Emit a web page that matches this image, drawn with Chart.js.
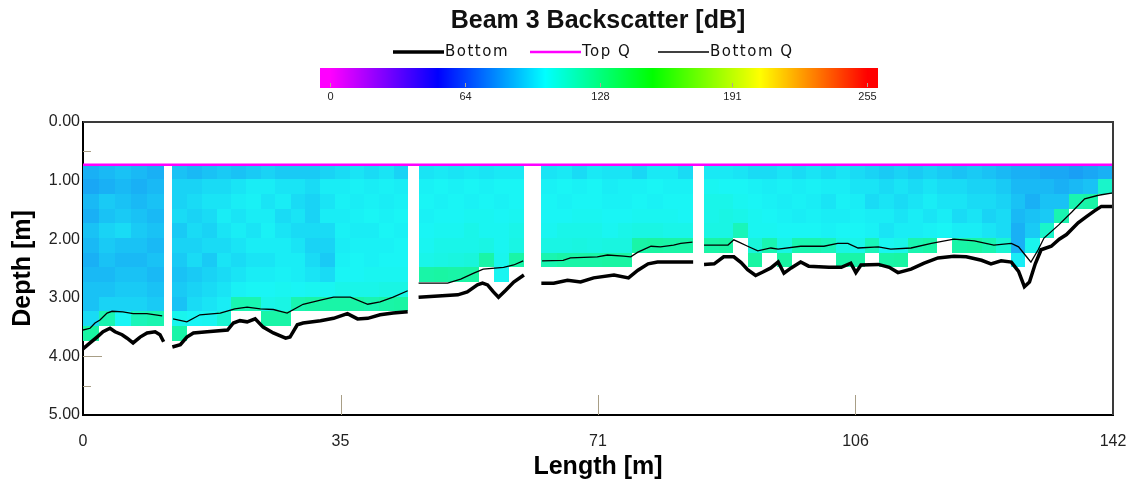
<!DOCTYPE html>
<html>
<head>
<meta charset="utf-8">
<title>Beam 3 Backscatter</title>
<script src="https://cdn.jsdelivr.net/npm/chart.js@4"></script>
<style>
  html, body { margin: 0; padding: 0; background: #fff; }
</style>
</head>
<body>
<canvas id="beamChart" width="1135" height="493"></canvas>
<script>
// ---- values ----
const lengthMax   = 141.8;
const xTickValues = [0, 35.45, 70.9, 106.35, 141.8];
const xTickLabels = ['0', '35', '71', '106', '142'];
const colorTicks  = [0, 64, 128, 191, 255];
const topQDepth   = 0.73;
const binTop      = 0.73;   // first depth cell starts here [m]
const binSize     = 0.25;   // cell height [m]

// ensembles (columns) along the track [m]; the white strips are missing ensembles
const colStart = [0, 2.2, 4.4, 6.6, 8.8,
  12.3, 14.3, 16.4, 18.4, 20.4, 22.5, 24.5, 26.5, 28.6, 30.6, 32.6, 34.7, 36.7, 38.7, 40.8, 42.8,
  46.2, 48.3, 50.3, 52.4, 54.5, 56.6, 58.6,
  63.1, 65.2, 67.3, 69.4, 71.5, 73.6, 75.6, 77.7, 79.8, 81.9,
  85.5, 87.5, 89.5, 91.5, 93.5, 95.6, 97.6, 99.6, 101.6, 103.6, 105.6, 107.6, 109.6, 111.6,
  113.6, 115.6, 117.6, 119.6, 121.7, 123.7, 125.7, 127.7, 129.7, 131.7, 133.7, 135.7, 137.7, 139.7];
const colEnd = [2.2, 4.4, 6.6, 8.8, 11.2,
  14.3, 16.4, 18.4, 20.4, 22.5, 24.5, 26.5, 28.6, 30.6, 32.6, 34.7, 36.7, 38.7, 40.8, 42.8, 44.8,
  48.3, 50.3, 52.4, 54.5, 56.6, 58.6, 60.7,
  65.2, 67.3, 69.4, 71.5, 73.6, 75.6, 77.7, 79.8, 81.9, 84.0,
  87.5, 89.5, 91.5, 93.5, 95.6, 97.6, 99.6, 101.6, 103.6, 105.6, 107.6, 109.6, 111.6, 113.6,
  115.6, 117.6, 119.6, 121.7, 123.7, 125.7, 127.7, 129.7, 131.7, 133.7, 135.7, 137.7, 139.7, 141.8];

// backscatter counts per column, top cell first (0..255 colour scale)
const beam3 = [
  [86, 84, 88, 86, 90, 88, 86, 88, 90, 90, 96, 121],
  [88, 86, 92, 90, 94, 92, 90, 88, 90, 94, 118],
  [90, 88, 90, 92, 96, 90, 88, 90, 92, 94, 102],
  [88, 86, 88, 90, 92, 90, 88, 90, 92, 94, 116],
  [86, 88, 90, 88, 90, 88, 90, 88, 90, 92, 118],

  [90, 94, 94, 96, 92, 94, 92, 90, 92, 90, 104, 120],
  [88, 94, 96, 94, 96, 94, 96, 92, 94, 96, 102],
  [90, 96, 98, 96, 94, 96, 92, 94, 96, 98, 103],
  [92, 96, 98, 100, 98, 96, 98, 96, 98, 100, 110],
  [90, 98, 100, 98, 100, 98, 96, 98, 101, 118],
  [92, 100, 101, 100, 98, 100, 98, 100, 102, 118],
  [94, 100, 98, 100, 101, 100, 98, 100, 102, 105, 120],
  [92, 98, 100, 96, 98, 100, 100, 101, 103, 106, 120],
  [92, 98, 96, 98, 96, 98, 100, 100, 102, 118],
  [92, 96, 94, 94, 96, 94, 96, 98, 103, 120],
  [94, 100, 98, 100, 96, 94, 92, 96, 103, 120],
  [96, 100, 101, 100, 101, 100, 101, 102, 105, 120],
  [98, 101, 100, 101, 100, 101, 102, 102, 105, 120],
  [96, 100, 101, 102, 100, 101, 101, 103, 105, 118],
  [98, 101, 100, 101, 102, 101, 102, 103, 106, 120],
  [94, 100, 101, 102, 101, 102, 102, 103, 106, 121],

  [98, 101, 102, 101, 102, 103, 105, 120],
  [99, 102, 101, 102, 103, 105, 106, 121],
  [98, 101, 102, 102, 103, 105, 107, 120],
  [99, 102, 101, 103, 105, 105, 108, 121],
  [98, 101, 102, 103, 103, 106, 120],
  [99, 102, 101, 102, 103, 103, 104, 103],
  [99, 102, 102, 103, 105, 106, 120],

  [98, 101, 102, 102, 103, 106, 118],
  [99, 102, 101, 102, 105, 106, 120],
  [96, 101, 102, 103, 105, 107, 120],
  [99, 102, 102, 103, 105, 106, 120],
  [98, 100, 101, 102, 103, 107, 121],
  [98, 101, 101, 102, 105, 107, 121],
  [95, 101, 102, 103, 106, 120],
  [99, 102, 101, 103, 106, 121],
  [99, 101, 102, 103, 105, 120],
  [96, 101, 102, 102, 105, 120],

  [99, 103, 105, 105, 106, 120],
  [99, 102, 105, 106, 106, 121],
  [98, 102, 103, 105, 116],
  [96, 101, 102, 103, 103, 108, 121],
  [96, 100, 101, 102, 103, 118],
  [98, 101, 100, 101, 102, 106, 121],
  [96, 100, 101, 100, 102, 118],
  [98, 101, 100, 101, 102, 118],
  [96, 100, 98, 100, 101, 116],
  [98, 100, 101, 100, 102, 106, 120],
  [96, 98, 100, 101, 102, 105, 120],
  [94, 98, 96, 100, 101, 116],
  [92, 96, 98, 100, 98, 103, 120],
  [94, 98, 96, 98, 100, 105, 121],
  [92, 96, 98, 100, 100, 118],
  [94, 98, 100, 98, 101, 120],
  [92, 96, 98, 100, 102],
  [90, 96, 98, 96, 100, 120],
  [92, 94, 96, 98, 100, 121],
  [90, 94, 96, 94, 98, 118],
  [88, 92, 94, 96, 96, 110],
  [86, 88, 90, 88, 86, 86, 100],
  [86, 88, 86, 90, 92, 104],
  [84, 88, 90, 92, 112],
  [84, 86, 90, 118],
  [82, 88, 118],
  [84, 90, 120],
  [86, 112]
];

// bottom track (null = missing ensemble)
const bottomX = [0, 0.97, 1.93, 2.76, 3.72, 4.41, 5.38, 6.07, 6.89, 7.86, 8.82, 9.93, 10.6, 11.1, 11.7,
  12.3, 13.4, 14.3, 15.2, 17.1, 19.9, 20.7, 21.6, 22.6, 23.7, 24.8, 26.2, 27.9, 28.5, 29.5, 30.3, 32.7, 34.5, 36.4, 37.8, 39.2, 40.9, 42.7, 44.7, 45.5,
  46.2, 51.6, 52.9, 54.3, 55.0, 55.7, 56.5, 57.2, 58.2, 59.3, 60.7, 61.9,
  63.1, 64.8, 66.7, 68.5, 70.3, 73.1, 75.1, 76.4, 77.8, 79.1, 84.0, 84.8,
  85.5, 86.9, 88.2, 89.6, 90.6, 91.5, 92.6, 93.6, 94.7, 95.7, 96.5, 97.5, 98.8, 99.9, 101.3, 102.7, 104.4, 105.7, 106.4, 107.1,
  109.5, 111.0, 112.2, 114.0, 115.8, 117.7, 119.9, 121.6, 123.7, 125.0, 126.4, 127.8, 128.8, 129.6, 130.3, 131.1, 131.9, 133.3, 134.4, 135.4,
  137.0, 138.1, 139.2, 140.2, 141.8];
const bottomDepth = [3.87, 3.77, 3.67, 3.58, 3.52, 3.58, 3.63, 3.69, 3.77, 3.67, 3.60, 3.58, 3.63, 3.75, null,
  3.84, 3.80, 3.67, 3.60, 3.58, 3.55, 3.43, 3.39, 3.41, 3.36, 3.50, 3.60, 3.69, 3.67, 3.46, 3.43, 3.39, 3.35, 3.27, 3.36, 3.35, 3.29, 3.26, 3.24, null,
  2.99, 2.95, 2.90, 2.78, 2.75, 2.78, 2.90, 2.99, 2.87, 2.73, 2.61, null,
  2.75, 2.75, 2.70, 2.73, 2.66, 2.61, 2.66, 2.53, 2.42, 2.39, 2.39, null,
  2.43, 2.42, 2.30, 2.30, 2.40, 2.52, 2.62, 2.56, 2.49, 2.39, 2.58, 2.49, 2.39, 2.46, 2.47, 2.48, 2.48, 2.41, 2.57, 2.44,
  2.43, 2.48, 2.57, 2.51, 2.41, 2.32, 2.29, 2.30, 2.36, 2.42, 2.37, 2.39, 2.55, 2.81, 2.73, 2.42, 2.18, 2.12, 2.00, 1.92,
  1.72, 1.62, 1.52, 1.44, 1.44];

// lower limit of good data (Bottom Q)
const bottomQX = [0, 0.97, 1.65, 2.34, 3.31, 4.0, 5.5, 6.9, 8.8, 10.9, 11.7,
  12.4, 14.3, 16.1, 18.9, 20.9, 22.6, 24.4, 26.2, 28.1, 30.3, 32.7, 34.5, 36.8, 39.2, 40.9, 42.7, 44.7, 45.5,
  46.2, 50.2, 52.0, 53.8, 55.1, 57.9, 59.3, 60.6, 61.9,
  63.2, 66.1, 67.1, 70.8, 72.2, 74.4, 75.4, 76.4, 78.2, 79.5, 81.3, 82.3, 83.9, 84.8,
  85.5, 88.8, 89.6, 90.3, 91.5, 92.9, 94.7, 95.7, 98.8, 102.0, 103.9, 105.3, 106.7, 109.5, 111.2, 114.0, 116.8, 119.9, 122.7, 125.4,
  127.8, 128.8, 129.9, 130.5, 131.5, 132.3, 134.3, 136.1, 137.9, 139.8, 141.8];
const bottomQDepth = [3.55, 3.52, 3.43, 3.38, 3.26, 3.23, 3.24, 3.27, 3.27, 3.31, null,
  3.36, 3.41, 3.29, 3.26, 3.19, 3.16, 3.19, 3.20, 3.26, 3.11, 3.04, 2.99, 2.99, 3.11, 3.07, 2.99, 2.88, null,
  2.75, 2.75, 2.68, 2.58, 2.51, 2.48, 2.44, 2.37, null,
  2.37, 2.36, 2.32, 2.30, 2.27, 2.29, 2.30, 2.22, 2.12, 2.13, 2.10, 2.07, 2.05, null,
  2.10, 2.10, 2.01, 2.05, 2.12, 2.20, 2.15, 2.17, 2.12, 2.12, 2.07, 2.07, 2.15, 2.13, 2.17, 2.15, 2.07, 2.00, 2.03, 2.10,
  2.07, 2.13, 2.30, 2.39, 2.18, 1.98, 1.76, 1.54, 1.31, 1.25, 1.21];

// ---- colour scale: magenta (0) -> blue -> cyan -> green -> yellow -> red (255)
function beamColor(v) {
  const hue = 300 - Math.max(0, Math.min(255, v)) / 255 * 300;
  return `hsl(${hue.toFixed(1)}, 100%, 50%)`;
}
// cells look a little washed out in the original
function cellColor(v) {
  const hue = 300 - Math.max(0, Math.min(255, v)) / 255 * 300;
  return `hsl(${hue.toFixed(1)}, 92%, 53%)`;
}

const toXY = (xs, ys) => xs.map((x, i) => ({ x, y: ys[i] }));

// heatmap cells + the small inside tick marks, under the lines
const beamCells = {
  id: 'beamCells',
  beforeDatasetsDraw(chart) {
    const { ctx, chartArea: a, scales: { x, y } } = chart;
    ctx.save();
    // inside ticks (mostly hidden by the cells, like the original)
    ctx.strokeStyle = '#a89e86';
    ctx.lineWidth = 1;
    ctx.beginPath();
    for (let d = 0.5; d < 5; d += 0.5) {
      const py = Math.round(y.getPixelForValue(d)) + 0.5;
      const len = Number.isInteger(d) ? 19 : 8;
      ctx.moveTo(a.left, py); ctx.lineTo(a.left + len, py);
    }
    xTickValues.slice(1, -1).forEach(v => {
      const px = Math.round(x.getPixelForValue(v)) + 0.5;
      ctx.moveTo(px, a.bottom); ctx.lineTo(px, a.bottom - 20);
    });
    ctx.stroke();

    beam3.forEach((cells, i) => {
      const x0 = Math.round(x.getPixelForValue(colStart[i]));
      const x1 = Math.round(x.getPixelForValue(colEnd[i]));
      cells.forEach((v, k) => {
        const y0 = Math.round(y.getPixelForValue(binTop + k * binSize));
        const y1 = Math.round(y.getPixelForValue(binTop + (k + 1) * binSize));
        ctx.fillStyle = cellColor(v);
        ctx.fillRect(x0, y0, x1 - x0, y1 - y0);
      });
    });
    ctx.restore();
  },
  afterDatasetsDraw(chart) {
    const { ctx, chartArea: a } = chart;
    ctx.save();
    ctx.strokeStyle = '#3a3a3a';
    ctx.lineWidth = 2;
    ctx.beginPath();
    ctx.moveTo(a.left, a.top); ctx.lineTo(a.right, a.top); ctx.lineTo(a.right, a.bottom);
    ctx.stroke();
    ctx.restore();
  }
};

// title, legend and colour bar above the plot
const beamHeader = {
  id: 'beamHeader',
  afterDraw(chart) {
    const ctx = chart.ctx;
    ctx.save();
    ctx.fillStyle = '#111';
    ctx.textAlign = 'center';
    ctx.textBaseline = 'middle';
    ctx.font = 'bold 25px Arial';
    ctx.fillText(chart.options.plugins.title.text, 598, 21);

    // legend: line sample then label
    const legendX = [393, 530, 658];
    ctx.font = '15px "DejaVu Sans"';
    ctx.letterSpacing = '1.5px';
    ctx.textAlign = 'left';
    chart.data.datasets.forEach((ds, i) => {
      ctx.strokeStyle = ds.borderColor;
      ctx.lineWidth = ds.borderWidth;
      ctx.beginPath();
      ctx.moveTo(legendX[i], 52); ctx.lineTo(legendX[i] + 51, 52);
      ctx.stroke();
      ctx.fillStyle = '#111';
      ctx.fillText(ds.label, legendX[i] + 52, 52);
    });
    ctx.letterSpacing = '0px';

    // colour bar
    const cb = { left: 320, right: 878, top: 68, bottom: 88, v0x: 330, v255x: 867 };
    for (let px = cb.left; px < cb.right; px++) {
      const v = (px - cb.v0x) / (cb.v255x - cb.v0x) * 255;
      ctx.fillStyle = beamColor(v);
      ctx.fillRect(px, cb.top, 1, cb.bottom - cb.top);
    }
    ctx.font = '11px Arial';
    ctx.textAlign = 'center';
    ctx.strokeStyle = '#b0a890';
    ctx.lineWidth = 1;
    colorTicks.forEach(v => {
      const px = Math.round(cb.v0x + v / 255 * (cb.v255x - cb.v0x)) + 0.5;
      ctx.beginPath();
      ctx.moveTo(px, cb.bottom - 5); ctx.lineTo(px, cb.bottom - 1);
      ctx.stroke();
      ctx.fillStyle = '#222';
      ctx.fillText(String(v), px, cb.bottom + 9);
    });
    ctx.restore();
  }
};

new Chart(document.getElementById('beamChart'), {
  type: 'line',
  data: {
    datasets: [
      { label: 'Bottom', data: toXY(bottomX, bottomDepth), borderColor: '#000000', borderWidth: 3.5 },
      { label: 'Top Q', data: [{ x: 0, y: topQDepth }, { x: lengthMax, y: topQDepth }], borderColor: '#ff00ff', borderWidth: 2.5 },
      { label: 'Bottom Q', data: toXY(bottomQX, bottomQDepth), borderColor: '#000000', borderWidth: 1.3 }
    ]
  },
  options: {
    responsive: false,
    animation: false,
    spanGaps: false,
    elements: { point: { radius: 0 }, line: { tension: 0, fill: false } },
    layout: { padding: { left: 0, right: 22, top: 122, bottom: 0 } },
    plugins: {
      legend: { display: false },
      tooltip: { enabled: false },
      title: { display: false, text: 'Beam 3 Backscatter [dB]' }
    },
    scales: {
      x: {
        type: 'linear', min: 0, max: lengthMax,
        grid: { display: false, drawTicks: false },
        border: { display: true, color: '#000', width: 2 },
        afterBuildTicks: s => { s.ticks = xTickValues.map(v => ({ value: v })); },
        ticks: {
          autoSkip: false, maxRotation: 0, padding: 17, color: '#222',
          font: { family: 'Arial', size: 16 },
          callback: (v, i) => xTickLabels[i]
        },
        title: {
          display: true, text: 'Length [m]', color: '#000',
          font: { family: 'Arial', size: 25, weight: 'bold' },
          padding: { top: 0, bottom: 11 }
        },
        // keep the end labels from shrinking the plot area
        afterFit: s => { s.height = 78; s.paddingLeft = 0; s.paddingRight = 0; }
      },
      y: {
        type: 'linear', reverse: true, min: 0, max: 5,
        grid: { display: false, drawTicks: false },
        border: { display: true, color: '#000', width: 2 },
        ticks: {
          stepSize: 1, padding: 3, color: '#222',
          font: { family: 'Arial', size: 16 },
          callback: v => v.toFixed(2)
        },
        title: {
          display: true, text: 'Depth [m]', color: '#000',
          font: { family: 'Arial', size: 25, weight: 'bold' },
          padding: { top: 8, bottom: 0 }
        },
        afterFit: s => { s.width = 83; }
      }
    }
  },
  plugins: [beamCells, beamHeader]
});
</script>
</body>
</html>
